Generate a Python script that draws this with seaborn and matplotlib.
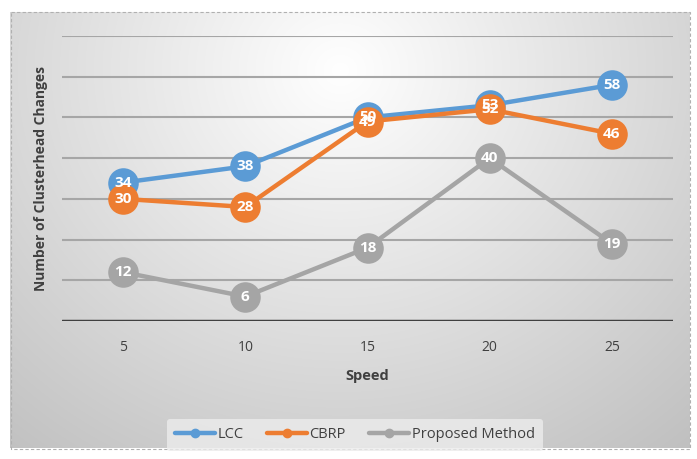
import numpy as np
import pandas as pd
import matplotlib
matplotlib.use("Agg")
import matplotlib.pyplot as plt
from matplotlib.patches import Rectangle
import seaborn as sns

# datos
speed = [5, 10, 15, 20, 25]
lcc = [34, 38, 50, 53, 58]
cbrp = [30, 28, 49, 52, 46]
proposed = [12, 6, 18, 40, 19]
series_names = ["LCC", "CBRP", "Proposed Method"]
colors = ["#5b9bd5", "#ed7d31", "#a5a5a5"]

df = pd.DataFrame({
    "Speed": speed * 3,
    "value": lcc + cbrp + proposed,
    "serie": [s for s in series_names for _ in speed],
})

sns.set_style("white")
plt.rcParams["font.family"] = ["Open Sans", "DejaVu Sans"]

fig = plt.figure(figsize=(6.97, 4.59), dpi=100)

# fondo degradado
bg = fig.add_axes([0, 0, 1, 1], zorder=0)
yy, xx = np.mgrid[0:459, 0:697]
d = np.sqrt(((xx - 340) / 520.0) ** 2 + ((yy - 70) / 480.0) ** 2)
g = np.clip(1.0 - 0.24 * d, 0.74, 1.0)
img = np.dstack([g, g, g])
img[:12, :] = 1.0
img[448:, :] = 1.0
img[:, :10] = 1.0
img[:, 690:] = 1.0
bg.imshow(img, aspect="auto", extent=[0, 697, 459, 0])
bg.add_patch(Rectangle((10.5, 11.5), 679, 437, fill=False, ec="#b0b0b0",
                       ls=(0, (3, 2)), lw=0.8))
bg.set_xlim(0, 697)
bg.set_ylim(459, 0)
bg.axis("off")

ax = fig.add_axes([62 / 697, 1 - 321 / 459, (673 - 62) / 697, (321 - 36) / 459], zorder=1)
ax.patch.set_alpha(0)

for v in range(10, 71, 10):
    ax.axhline(v, color="#a6a6a6", lw=1.5, zorder=1)
ax.axhline(0, color="#404040", lw=2.5, zorder=1)

sns.lineplot(data=df, x="Speed", y="value", hue="serie", palette=colors,
             hue_order=series_names, marker="o", markersize=22, lw=3.2,
             markeredgewidth=0, ax=ax, legend=False, zorder=3)

for vals in [lcc, cbrp, proposed]:
    for x, y in zip(speed, vals):
        ax.text(x, y, str(y), ha="center", va="center", color="white",
                fontsize=11, fontweight="bold", zorder=5)

ax.set_xlim(2.5, 27.5)
ax.set_ylim(0, 70)
ax.set_xticks(speed)
ax.set_xticklabels([str(s) for s in speed], fontsize=10, color="#404040")
ax.set_yticks([])
ax.tick_params(axis="x", length=0, pad=14)
for sp in ax.spines.values():
    sp.set_visible(False)
ax.set_xlabel("Speed", fontsize=10.5, fontweight="bold", color="#404040", labelpad=10)
ax.set_ylabel("Number of Clusterhead Changes", fontsize=10, fontweight="bold",
              color="#404040", labelpad=10)

handles = [plt.Line2D([0], [0], color=c, lw=3.2, marker="o", markersize=6)
           for c in colors]
leg = fig.legend(handles, series_names, loc="center", bbox_to_anchor=(355 / 697, 1 - 435 / 459),
                 ncol=3, frameon=True, fontsize=10.5, handlelength=2.7,
                 columnspacing=1.6, handletextpad=0.2, borderpad=0.6)
leg.get_frame().set_facecolor("#ececec")
leg.get_frame().set_edgecolor("none")
for t in leg.get_texts():
    t.set_color("#404040")

fig.savefig("out.png", dpi=100)
